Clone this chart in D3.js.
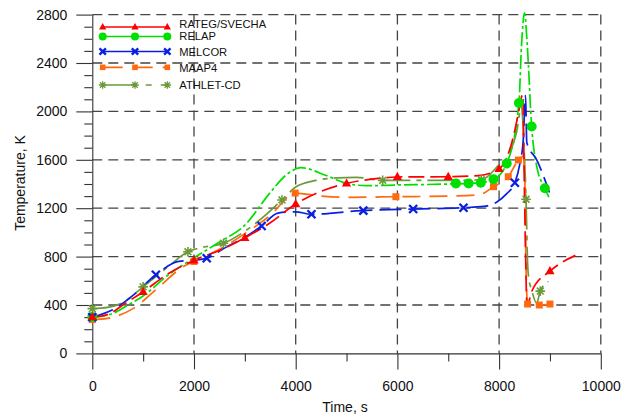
<!DOCTYPE html>
<html><head><meta charset="utf-8">
<script src="https://cdn.jsdelivr.net/npm/d3@7"></script>
<style>
body{margin:0;background:#fff}
svg{display:block}
text{font-family:Arial,"Liberation Sans",sans-serif;fill:#111}
</style>
</head><body>
<svg id="c" width="629" height="417"></svg>
<script>
// ---------- data ----------
const seriesNames = ["RATEG/SVECHA","RELAP","MELCOR","MAAP4","ATHLET-CD"];

const rategTime = [0,300,600,1000,1500,2000,2500,3000,3500,4000,4500,5000,5500,6000,7000,7600,8000,8280,8380,8465,8500,8550,8650,9000,9500];
const rategTemp = [300,320,400,510,660,770,850,955,1080,1235,1340,1405,1440,1458,1460,1470,1525,1790,1985,2140,1300,400,520,680,810];
const rategMarkTime = [0,1000,2000,3000,4000,5000,6000,7000,8000,9000];
const rategMarkTemp = [300,510,770,955,1235,1405,1460,1460,1525,680];

const relapTime = [0,400,700,1000,1500,2000,2500,3000,3500,3800,4100,4600,5000,5400,6000,7000,7600,7900,8150,8390,8440,8500,8555,8640,8740,8900,8990];
const relapTemp = [300,330,400,475,650,790,920,1060,1330,1470,1535,1470,1405,1386,1392,1400,1410,1440,1570,2070,2540,2815,2540,1875,1545,1365,1280];
const relapMarkTime = [0,7150,7400,7640,7890,8150,8390,8640,8900];
const relapMarkTemp = [300,1405,1405,1410,1440,1570,2070,1875,1365];

const melcorTime = [0,400,800,1250,1700,2000,2250,2600,3000,3330,3650,4000,4300,5300,6300,7300,7700,7950,8150,8310,8410,8475,8520,8545,8740,8990];
const melcorTemp = [300,360,480,650,760,770,786,870,960,1053,1160,1170,1150,1180,1193,1204,1215,1250,1320,1410,1570,1765,2130,1740,1600,1330];
const melcorMarkTime = [0,1250,2250,3330,4310,5330,6310,7300,8310];
const melcorMarkTemp = [300,650,786,1053,1150,1180,1193,1204,1410];

const maapTime = [0,300,800,1300,1800,2000,2500,3000,3500,3990,4500,5000,6000,7000,7600,7890,8180,8380,8470,8505,8530,8560,8790,9000];
const maapTemp = [280,290,370,545,720,760,860,990,1140,1325,1300,1290,1295,1300,1310,1378,1460,1598,1630,1450,700,408,400,408];
const maapMarkTime = [0,2000,3990,5970,7890,8180,8380,8560,8790,9000];
const maapMarkTemp = [280,760,1325,1295,1378,1460,1598,408,400,408];

const athletTime = [0,300,600,1000,1500,1880,2100,2580,3000,3400,3730,4000,4400,4800,5200,5700,6500,7000,7650,8000,8200,8340,8440,8490,8530,8560,8580,8640,8740,8805,8970];
const athletTemp = [370,380,420,550,720,840,870,910,1010,1140,1268,1375,1430,1450,1455,1430,1430,1430,1435,1560,1650,1820,2040,1700,1274,750,630,525,414,510,595];
const athletMarkTime = [0,1000,1880,2580,3730,5710,7650,8530,8810];
const athletMarkTemp = [370,550,840,910,1268,1430,1435,1274,515];

const xMajorTicks = [0,2000,4000,6000,8000,10000];
const xMinorTicks = [1000,3000,5000,7000,9000];
const yMajorTicks = [0,400,800,1200,1600,2000,2400,2800];

// ---------- setup ----------
const svg = d3.select("#c");
const x = d3.scaleLinear().domain([0,10000]).range([92.3,600.8]);
const y = d3.scaleLinear().domain([0,2800]).range([353.4,14.6]);
const yMinorTicks = d3.range(100,2800,100).filter(v => v % 400 !== 0);

// grid
const grid = svg.append("g").attr("stroke","#444").attr("stroke-width",1.3).attr("stroke-dasharray","10,6").attr("fill","none");
yMajorTicks.filter(v=>v>0).forEach(v=>{
  grid.append("line").attr("x1",x(0)).attr("x2",x(10000)).attr("y1",y(v)).attr("y2",y(v));
});
xMajorTicks.filter(v=>v>0).forEach(v=>{
  grid.append("line").attr("x1",x(v)).attr("x2",x(v)).attr("y1",y(2800)).attr("y2",y(0));
});

// axes
const axCol = "#333";
const gx = svg.append("g").attr("transform",`translate(0,${y(0)})`)
  .call(d3.axisBottom(x).tickValues(xMajorTicks).tickSize(16).tickSizeOuter(0).tickPadding(12).tickFormat(d3.format("d")));
const gxm = svg.append("g").attr("transform",`translate(0,${y(0)})`)
  .call(d3.axisBottom(x).tickValues(xMinorTicks).tickSize(8).tickSizeOuter(0).tickFormat(""));
gxm.select(".domain").remove();
const gy = svg.append("g").attr("transform",`translate(${x(0)},0)`)
  .call(d3.axisLeft(y).tickValues(yMajorTicks).tickSize(16).tickSizeOuter(0).tickPadding(9).tickFormat(d3.format("d")));
const gym = svg.append("g").attr("transform",`translate(${x(0)},0)`)
  .call(d3.axisLeft(y).tickValues(yMinorTicks).tickSize(8).tickSizeOuter(0).tickFormat(""));
gym.select(".domain").remove();
[gx,gxm,gy,gym].forEach(g=>{
  g.selectAll("line").attr("stroke",axCol).attr("stroke-width",1.1);
  g.selectAll(".domain").attr("stroke",axCol).attr("stroke-width",1.1);
  g.selectAll("text").attr("font-size","14px").attr("font-family","Arial,'Liberation Sans',sans-serif").attr("fill","#111");
});

// axis titles
svg.append("text").attr("x",345).attr("y",412).attr("text-anchor","middle").attr("font-size","14px").text("Time, s");
svg.append("text").attr("transform","translate(25,183) rotate(-90)").attr("text-anchor","middle").attr("font-size","14px").text("Temperature, K");

// ---------- symbols ----------
function markerPath(kind){
  switch(kind){
    case "tri": return "M0,-5L4.6,3.2L-4.6,3.2Z";
    case "circ": return "M5,0A5,5 0 1,1 -5,0A5,5 0 1,1 5,0Z";
    case "x": return "M-4,-4L4,4M-4,4L4,-4";
    case "sq": return "M-3.5,-3.5H3.5V3.5H-3.5Z";
    case "star": return "M-4.8,0H4.8M0,-4.8V4.8M-3.4,-3.4L3.4,3.4M-3.4,3.4L3.4,-3.4";
  }
}

const series = [
  {name:seriesNames[4], t:athletTime, v:athletTemp, mt:athletMarkTime, mv:athletMarkTemp, color:"#6b9a3a", dash:"30,6,5,6", legDash:"34,9,6,9", marker:"star", legY:85, txtY:89},
  {name:seriesNames[3], t:maapTime, v:maapTemp, mt:maapMarkTime, mv:maapMarkTemp, color:"#ff6a10", dash:"18,9", legDash:"20,10", marker:"sq", legY:67.3, txtY:71.5},
  {name:seriesNames[1], t:relapTime, v:relapTemp, mt:relapMarkTime, mv:relapMarkTemp, color:"#00e000", dash:"14,3,3,3", legDash:null, marker:"circ", legY:36.5, txtY:40},
  {name:seriesNames[2], t:melcorTime, v:melcorTemp, mt:melcorMarkTime, mv:melcorMarkTemp, color:"#0a1fe0", dash:"22,7", legDash:null, marker:"x", legY:51.5, txtY:55.7},
  {name:seriesNames[0], t:rategTime, v:rategTemp, mt:rategMarkTime, mv:rategMarkTemp, color:"#ff0000", dash:"16,6", legDash:null, marker:"tri", legY:27, txtY:28.3}
];

const line = d3.line().x(d=>x(d[0])).y(d=>y(d[1])).curve(d3.curveMonotoneX);

function drawMarker(g, kind, cx, cy, color, sc){
  sc = sc || 1;
  const p = g.append("path").attr("d", markerPath(kind)).attr("transform",`translate(${cx},${cy}) scale(${sc})`);
  if(kind==="x"){ p.attr("fill","none").attr("stroke",color).attr("stroke-width",2.6/sc*0.9); }
  else if(kind==="star"){ p.attr("fill","none").attr("stroke",color).attr("stroke-width",1.6);
    g.append("circle").attr("cx",cx).attr("cy",cy).attr("r",1.8*sc).attr("fill",color); }
  else { p.attr("fill",color).attr("stroke","none"); }
}

const plot = svg.append("g");
series.forEach(s=>{
  const pts = s.t.map((t,i)=>[t,s.v[i]]);
  plot.append("path").datum(pts).attr("d",line).attr("fill","none")
    .attr("stroke",s.color).attr("stroke-width",1.7).attr("stroke-dasharray",s.dash);
});
series.forEach(s=>{
  const g = plot.append("g");
  s.mt.forEach((t,i)=>drawMarker(g, s.marker, x(t), y(s.mv[i]), s.color));
});

// ---------- legend ----------
const leg = svg.append("g");
const lx0 = 102.7, lx1 = 167.3, lxm = 135;
series.forEach(s=>{
  const l = leg.append("line").attr("x1",lx0).attr("x2",lx1).attr("y1",s.legY).attr("y2",s.legY)
    .attr("stroke",s.color).attr("stroke-width",1.7);
  if(s.legDash) l.attr("stroke-dasharray",s.legDash);
  [lx0,lxm,lx1].forEach(px=>drawMarker(leg, s.marker, px, s.legY, s.color, 0.8));
  leg.append("text").attr("x",179.3).attr("y",s.txtY).attr("font-size","11.2px").text(s.name);
});
</script>
</body></html>
